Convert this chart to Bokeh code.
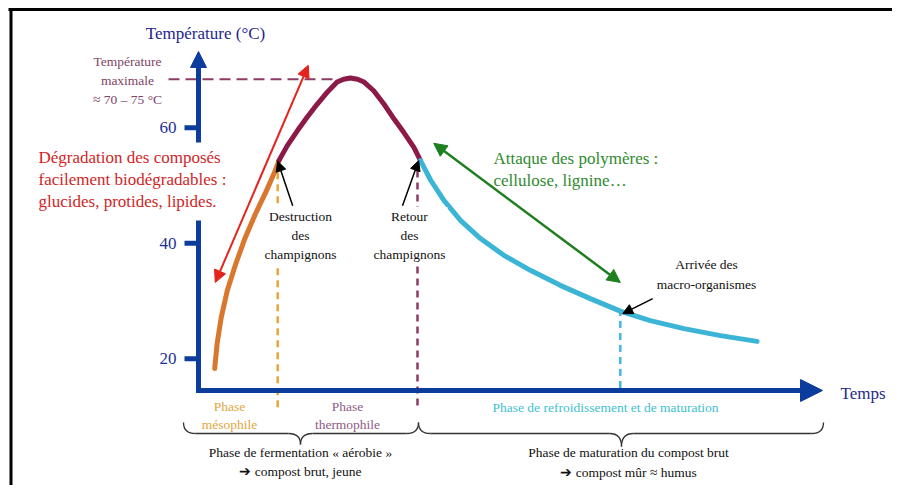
from bokeh.plotting import figure
from bokeh.models import Range1d, Arrow, NormalHead
from bokeh.core.properties import value
from bokeh.embed import file_html
from bokeh.resources import INLINE

# ---------------- data (time in arbitrary units, temperature in °C) ----------------
t_meso = [2.7, 3.1, 3.8, 4.8, 6.2, 7.8, 9.5, 11.2, 12.8, 13.4]
T_meso = [18.3, 22.6, 27.2, 31.8, 36.4, 41.0, 45.1, 48.8, 52.6, 54.3]

t_thermo = [13.4, 14.8, 16.5, 18.1, 19.8, 21.5, 23.1, 24.2, 25.3, 26.5, 27.6, 29.2, 30.9, 32.6, 34.2, 35.9, 37.0]
T_thermo = [54.3, 56.9, 59.5, 61.8, 64.1, 66.2, 67.9, 68.4, 68.6, 68.4, 67.9, 66.4, 64.1, 61.5, 59.2, 56.6, 54.3]

t_cool = [37.0, 38.7, 40.9, 43.7, 47.0, 50.9, 55.3, 60.3, 65.3, 70.4, 75.3, 80.9, 87.0, 93.1]
T_cool = [54.3, 50.9, 47.4, 43.9, 40.8, 37.9, 35.3, 32.7, 30.4, 28.2, 26.6, 25.2, 24.0, 23.0]

T_max = 68.4
y_ticks = [20, 40, 60]
y_tick_labels = ["20", "40", "60"]

# phase boundaries (time) and the temperature where each marker starts
t_bounds = [13.2, 36.5, 70.3]
T_bounds_top = [52.3, 52.6, 28.6]

# annotation arrows: (t_start, T_start, t_end, T_end)
red_arrow = [2.8, 33.2, 18.3, 70.8]
green_arrow = [39.2, 57.3, 70.3, 33.2]
arrow_destruction = [15.7, 46.5, 13.2, 54.2]
arrow_retour = [34.0, 46.5, 36.7, 54.3]
arrow_arrivee = [75.7, 30.4, 70.7, 27.8]

# ---------------- layout helpers (canvas pixel -> data) ----------------
def X(px):
    return (px - 198) / 6.0

def Y(py):
    return 80.64 - (py - 8) / 5.775

W, H = 892, 485
FONT = value("Liberation Serif")

p = figure(width=W, height=H, x_range=Range1d(X(0), X(W)), y_range=Range1d(Y(H), Y(0)),
           output_backend="svg", toolbar_location=None, min_border=0,
           x_axis_location=None, y_axis_location=None)
p.grid.visible = False
p.outline_line_color = None
p.background_fill_color = "white"
p.border_fill_color = "white"

NAVY = "#0c3c9c"

# frame (top and left edges)
p.segment(x0=[X(8), X(10.5)], y0=[Y(9), Y(8)], x1=[X(W), X(10.5)], y1=[Y(9), Y(H)],
          line_color="black", line_width=3)

# dashed markers
p.segment(x0=[X(168)], y0=[T_max], x1=[22.5], y1=[T_max], line_color="#8c3c64",
          line_width=2, line_dash="11 6")
p.segment(x0=[t_bounds[0]], y0=[T_bounds_top[0]], x1=[t_bounds[0]], y1=[Y(407)],
          line_color="#eba534", line_width=2.5, line_dash="7 5")
p.segment(x0=[t_bounds[1]], y0=[T_bounds_top[1]], x1=[t_bounds[1]], y1=[Y(407)],
          line_color="#8c3c64", line_width=2.5, line_dash="7 5")
p.segment(x0=[t_bounds[2]], y0=[T_bounds_top[2]], x1=[t_bounds[2]], y1=[Y(390)],
          line_color="#44b8e4", line_width=2.5, line_dash="7 5")

# axes (drawn as thick arrows)
p.segment(x0=[0, 0], y0=[Y(392.5), Y(142)], x1=[0, 0], y1=[Y(220), Y(66)],
          line_color=NAVY, line_width=5)
p.add_layout(Arrow(end=NormalHead(size=16, fill_color=NAVY, line_color=NAVY),
                   x_start=0, y_start=Y(80), x_end=0, y_end=Y(51),
                   line_color=NAVY, line_width=5))
p.add_layout(Arrow(end=NormalHead(size=22, fill_color=NAVY, line_color=NAVY),
                   x_start=X(195.5), y_start=Y(390), x_end=X(822), y_end=Y(390),
                   line_color=NAVY, line_width=5))
p.segment(x0=[X(184)] * 3, y0=y_ticks, x1=[0] * 3, y1=y_ticks, line_color=NAVY, line_width=5)
p.text(x=[X(176)] * 3, y=y_ticks, text=y_tick_labels, text_font=FONT, text_font_size="17px",
       text_color="#1d2f9a", text_align="right", text_baseline="middle")

# curves
p.line(t_meso, T_meso, line_color="#d9772e", line_width=5, line_cap="round", line_join="round")
p.line(t_thermo, T_thermo, line_color="#8c1a48", line_width=5, line_cap="round", line_join="round")
p.line(t_cool, T_cool, line_color="#3cb4d6", line_width=5, line_cap="round", line_join="round")

# arrows
def add_arrow(a, color, width, size, both=False):
    end = NormalHead(size=size, fill_color=color, line_color=color)
    start = NormalHead(size=size, fill_color=color, line_color=color) if both else None
    p.add_layout(Arrow(start=start, end=end, x_start=a[0], y_start=a[1], x_end=a[2], y_end=a[3],
                       line_color=color, line_width=width))

add_arrow(red_arrow, "#e4231c", 2, 12, both=True)
add_arrow(green_arrow, "#1e7f1e", 2.5, 13, both=True)
add_arrow(arrow_destruction, "black", 1.5, 10)
add_arrow(arrow_retour, "black", 1.5, 10)
add_arrow(arrow_arrivee, "black", 1.5, 10)

# braces
def brace(x0, x1, xm, ytop, ymid, ybot, q):
    qs = dict(line_color="#333333", line_width=1.3)
    p.quadratic(x0=[x0, x1], y0=[ytop, ytop], x1=[x0 + q, x1 - q], y1=[ymid, ymid],
                cx=[x0, x1], cy=[ymid, ymid], **qs)
    p.segment(x0=[x0 + q, xm + q], y0=[ymid, ymid], x1=[xm - q, x1 - q], y1=[ymid, ymid], **qs)
    p.quadratic(x0=[xm - q, xm + q], y0=[ymid, ymid], x1=[xm, xm], y1=[ybot, ybot],
                cx=[xm, xm], cy=[ymid, ymid], **qs)

brace(X(183), X(418), X(300), Y(422), Y(433), Y(444), 2.0)
brace(X(418), X(823), X(621), Y(422), Y(433), Y(446), 2.0)

# texts
def txt(px, py, s, size, color, align="center", lh=1.25, bg=None):
    kw = {}
    if bg:
        kw = dict(background_fill_color=bg, padding=2)
    p.text(x=[X(px)], y=[Y(py)], text=[s], text_font=FONT, text_font_size=size,
           text_color=color, text_align=align, text_baseline="middle",
           text_line_height=lh, **kw)

txt(205, 33, "Température (°C)", "17px", "#1f1f8f")
txt(127, 80, "Température\nmaximale\n≈ 70 – 75 °C", "13.5px", "#7f4466", lh=1.28)
txt(38, 179, "Dégradation des composés\nfacilement biodégradables :\nglucides, protides, lipides.",
    "17px", "#d01f1f", align="left", lh=1.18)
txt(493, 169, "Attaque des polymères :\ncellulose, lignine…", "17px", "#2f8a2f", align="left", lh=1.18)
txt(300, 235, "Destruction\ndes\nchampignons", "13.5px", "#111111", lh=1.27, bg="white")
txt(409, 235, "Retour\ndes\nchampignons", "13.5px", "#111111", lh=1.27, bg="white")
txt(706, 274, "Arrivée des\nmacro-organismes", "13.5px", "#111111", lh=1.32)
txt(840, 393, "Temps", "17px", "#1f2a8c", align="left")
txt(229, 415, "Phase\nmésophile", "13.5px", "#e2a640", lh=1.22)
txt(347, 415, "Phase\nthermophile", "13.5px", "#8f5b87", lh=1.22)
txt(605, 407, "Phase de refroidissement et de maturation", "13.5px", "#40bfd0")
txt(300, 461.5, "Phase de fermentation « aérobie »\n➔ compost brut, jeune", "13.5px", "#111111", lh=1.28)
txt(628, 462, "Phase de maturation du compost brut\n➔ compost mûr ≈ humus", "13.5px", "#111111", lh=1.3)

open("out.html", "w").write(file_html(p, INLINE))
